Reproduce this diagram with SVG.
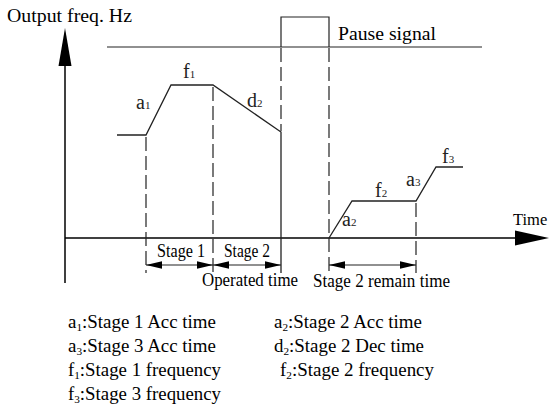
<svg xmlns="http://www.w3.org/2000/svg" width="550" height="406" viewBox="0 0 550 406">
<style>
text{font-family:"Liberation Serif","Times New Roman",serif;fill:#000}
.t{font-size:19.5px}
.lg{font-size:18.5px}
.cl{font-size:20px;fill:#222}
.sub{font-size:11px}
.ax{stroke:#000;stroke-width:1.5;fill:none}
.cv{stroke:#222;stroke-width:1.3;fill:none}
.ds{stroke:#222;stroke-width:1.2;fill:none;stroke-dasharray:14 5}
.sl{stroke:#222;stroke-width:1.2;fill:none}
.ah{fill:#000}
</style>
<g id="axes">
<line class="ax" x1="65" y1="60" x2="65" y2="283"/>
<polygon class="ah" points="65,28 58.5,66 71.5,66"/>
<line class="ax" x1="65" y1="238" x2="520" y2="238"/>
<polygon class="ah" points="549,238 515,230.5 515,245.5"/>
<text class="t" x="7" y="22" textLength="125" lengthAdjust="spacingAndGlyphs">Output freq. Hz</text>
<text x="513" y="225" style="font-size:16.5px">Time</text>
</g>
<g id="pause">
<line class="sl" x1="107" y1="47" x2="482" y2="47"/>
<path class="sl" d="M281,47 V17 H329 V47"/>
<text class="t" x="338" y="40" textLength="98" lengthAdjust="spacingAndGlyphs">Pause signal</text>
</g>
<g id="curves">
<path class="cv" d="M117,135 H146 L171,85 H213 L281,132 V273"/>
<path class="cv" d="M329,238 L352,201 H416 L436,167 H463"/>
<text class="cl" x="136" y="109">a<tspan class="sub">1</tspan></text>
<text class="cl" x="183" y="78">f<tspan class="sub">1</tspan></text>
<text class="cl" x="247" y="107">d<tspan class="sub">2</tspan></text>
<text class="cl" x="342" y="226">a<tspan class="sub">2</tspan></text>
<text class="cl" x="375" y="197">f<tspan class="sub">2</tspan></text>
<text class="cl" x="406" y="186">a<tspan class="sub">3</tspan></text>
<text class="cl" x="442" y="163">f<tspan class="sub">3</tspan></text>
</g>
<g id="connectors">
<line class="ds" x1="146" y1="137" x2="146" y2="273"/>
<line class="ds" x1="213" y1="87" x2="213" y2="273"/>
<line class="ds" x1="281" y1="48" x2="281" y2="131"/>
<line class="ds" x1="329" y1="48" x2="329" y2="273"/>
<line class="ds" x1="416" y1="203" x2="416" y2="273"/>
<line class="sl" x1="146" y1="265" x2="281" y2="265"/>
<line class="sl" x1="329" y1="265" x2="416" y2="265"/>
<polygon class="ah" points="146,265 162,261.2 162,268.8"/>
<polygon class="ah" points="213,265 197,261.2 197,268.8"/>
<polygon class="ah" points="213,265 229,261.2 229,268.8"/>
<polygon class="ah" points="281,265 265,261.2 265,268.8"/>
<polygon class="ah" points="329,265 345,261.2 345,268.8"/>
<polygon class="ah" points="416,265 400,261.2 400,268.8"/>
</g>
<g id="dim-labels">
<text class="t" x="157" y="257" textLength="48" lengthAdjust="spacingAndGlyphs">Stage 1</text>
<text class="t" x="224" y="257" textLength="46" lengthAdjust="spacingAndGlyphs">Stage 2</text>
<text class="t" x="202" y="286" textLength="96" lengthAdjust="spacingAndGlyphs">Operated time</text>
<text class="t" x="313" y="287" textLength="137" lengthAdjust="spacingAndGlyphs">Stage 2 remain time</text>
</g>
<g id="legend">
<text class="lg" x="68" y="328" textLength="148" lengthAdjust="spacingAndGlyphs">a<tspan class="sub" dy="3">1</tspan><tspan dy="-3">:Stage 1 Acc time</tspan></text>
<text class="lg" x="68" y="352" textLength="148" lengthAdjust="spacingAndGlyphs">a<tspan class="sub" dy="3">3</tspan><tspan dy="-3">:Stage 3 Acc time</tspan></text>
<text class="lg" x="68" y="376" textLength="153" lengthAdjust="spacingAndGlyphs">f<tspan class="sub" dy="3">1</tspan><tspan dy="-3">:Stage 1 frequency</tspan></text>
<text class="lg" x="68" y="400" textLength="153" lengthAdjust="spacingAndGlyphs">f<tspan class="sub" dy="3">3</tspan><tspan dy="-3">:Stage 3 frequency</tspan></text>
<text class="lg" x="274" y="328" textLength="148" lengthAdjust="spacingAndGlyphs">a<tspan class="sub" dy="3">2</tspan><tspan dy="-3">:Stage 2 Acc time</tspan></text>
<text class="lg" x="274" y="352" textLength="150" lengthAdjust="spacingAndGlyphs">d<tspan class="sub" dy="3">2</tspan><tspan dy="-3">:Stage 2 Dec time</tspan></text>
<text class="lg" x="280" y="376" textLength="154" lengthAdjust="spacingAndGlyphs">f<tspan class="sub" dy="3">2</tspan><tspan dy="-3">:Stage 2 frequency</tspan></text>
</g>
</svg>
